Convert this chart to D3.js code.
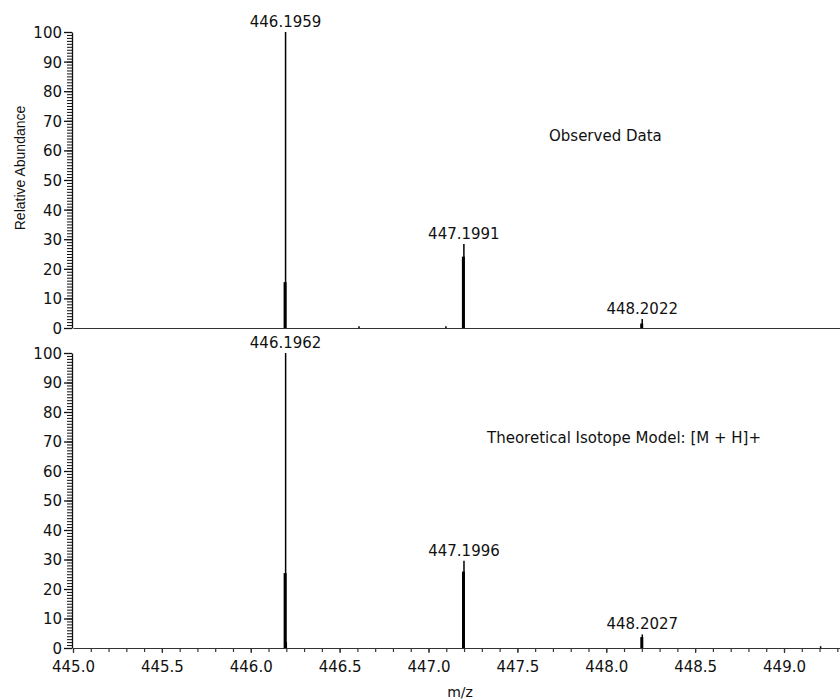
<!DOCTYPE html>
<html>
<head>
<meta charset="utf-8">
<script src="https://cdn.jsdelivr.net/npm/d3@7"></script>
<style>
  body { margin: 0; background: #fff; }
  svg text { font-family: "DejaVu Sans", "Liberation Sans", Arial, sans-serif; fill: #111; }
</style>
</head>
<body>
<svg id="chart" width="840" height="700"></svg>
<script>
// observed spectrum (sticks)
var obsMz       = [446.1959, 446.6090, 447.0980, 447.1991, 448.2022];
var obsInt      = [100, 0.6, 0.6, 28.4, 3.0];
var obsShoulder = [15.5, 0, 0, 24.1, 1.5];   // thick lower part of the peak
var obsLabels   = [446.1959, 447.1991, 448.2022];

// theoretical isotope model
var theoMz       = [446.1962, 446.2000, 447.1996, 448.2027, 449.2060];
var theoInt      = [100, 2.0, 29.6, 4.6, 0.6];
var theoShoulder = [25.4, 0, 25.9, 3.7, 0];
var theoLabels   = [446.1962, 447.1996, 448.2027];

var xMajor = [445.0, 445.5, 446.0, 446.5, 447.0, 447.5, 448.0, 448.5, 449.0];
var yMajor = [0, 10, 20, 30, 40, 50, 60, 70, 80, 90, 100];

var svg = d3.select("#chart");

var x = d3.scaleLinear().domain([445, 449.315]).range([73, 840]);
var xMinor = d3.range(4450, 4494).map(d => d / 10);
var yMinor = d3.range(0, 101);

var panels = [
    { mz: obsMz, inten: obsInt, shoulder: obsShoulder, labels: obsLabels,
      top: 32, bottom: 328, title: "Observed Data", titleX: 549, titleY: 141, xTicks: false },
    { mz: theoMz, inten: theoInt, shoulder: theoShoulder, labels: theoLabels,
      top: 353, bottom: 648, title: "Theoretical Isotope Model: [M + H]+", titleX: 487, titleY: 443, xTicks: true }
];

panels.forEach(function (p) {
    var y = d3.scaleLinear().domain([0, 100]).range([p.bottom, p.top]);
    var g = svg.append("g");

    // y axis: minor comb then labelled majors
    g.append("g")
        .attr("transform", `translate(${x.range()[0] - 1},0)`)
        .call(d3.axisLeft(y).tickValues(yMinor).tickSize(5).tickSizeOuter(0).tickFormat(""))
        .call(a => a.select(".domain").remove());
    var ya = g.append("g")
        .attr("transform", `translate(${x.range()[0] - 1},0)`)
        .call(d3.axisLeft(y).tickValues(yMajor).tickSize(8).tickSizeOuter(0).tickPadding(2));
    ya.selectAll("text").style("font-size", "15px").attr("dy", "0.36em");
    ya.selectAll("line, path").attr("stroke-width", 1.3);
    g.selectAll("line, path").attr("stroke", "#111");

    // x axis
    var xa = g.append("g").attr("transform", `translate(0,${p.bottom})`);
    if (p.xTicks) {
        xa.call(d3.axisBottom(x).tickValues(xMinor).tickSize(4).tickSizeOuter(0).tickFormat(""));
        xa.append("g")
            .call(d3.axisBottom(x).tickValues(xMajor).tickSize(5).tickSizeOuter(0).tickPadding(8)
                .tickFormat(d3.format(".1f")))
            .call(a => a.select(".domain").remove())
            .selectAll("text").style("font-size", "15px");
    } else {
        xa.call(d3.axisBottom(x).tickValues([]).tickSizeOuter(0));
    }
    xa.selectAll("line, path").attr("stroke", "#333").attr("stroke-width", 1.2);

    // sticks
    var idx = d3.range(p.mz.length);
    g.selectAll(".stick").data(idx).enter().append("line")
        .attr("x1", i => x(p.mz[i])).attr("x2", i => x(p.mz[i]))
        .attr("y1", y(0)).attr("y2", i => y(p.inten[i]))
        .attr("stroke", "#000").attr("stroke-width", 1.5);
    g.selectAll(".shoulder").data(idx.filter(i => p.shoulder[i] > 0)).enter().append("line")
        .attr("x1", i => x(p.mz[i]) - 0.5).attr("x2", i => x(p.mz[i]) - 0.5)
        .attr("y1", y(0)).attr("y2", i => y(p.shoulder[i]))
        .attr("stroke", "#000").attr("stroke-width", 3);

    // peak labels
    g.selectAll(".plabel").data(p.labels).enter().append("text")
        .attr("x", d => x(d))
        .attr("y", d => y(p.inten[p.mz.indexOf(d)]) - 5)
        .attr("text-anchor", "middle")
        .style("font-size", "15px")
        .text(d => d.toFixed(4));

    g.append("text")
        .attr("x", p.titleX).attr("y", p.titleY)
        .style("font-size", "15px")
        .text(p.title);
});

svg.append("text")
    .attr("transform", "translate(25,168) rotate(-90)")
    .attr("text-anchor", "middle")
    .style("font-family", "'Liberation Sans', Arial, sans-serif")
    .style("font-size", "14px")
    .text("Relative Abundance");

svg.append("text")
    .attr("x", 460).attr("y", 697)
    .attr("text-anchor", "middle")
    .style("font-size", "14px")
    .text("m/z");
</script>
</body>
</html>
